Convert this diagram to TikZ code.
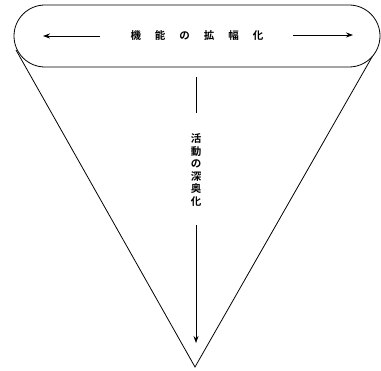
\documentclass[tikz,border=0pt]{standalone}
\usepackage{fontspec}
\newfontfamily\cjk{Noto Sans CJK JP}[BoldFont={Noto Sans CJK JP Bold}]
\usetikzlibrary{shapes.misc,arrows.meta}
\begin{document}
\begin{tikzpicture}[x=1pt,y=-1pt,
  ln/.style={line width=0.8pt,black},
  arr/.style={ln,-{Stealth[length=7pt,width=5pt]}},
  lbl/.style={font=\cjk\bfseries\fontsize{10.5}{12.6}\selectfont,inner sep=0pt}]
\useasboundingbox (0,0) rectangle (381,371);
% triangle
\coordinate (tl) at (16,50);
\coordinate (tr) at (376,50);
\coordinate (apex) at (195,367);
\draw[ln] (tl) -- (apex) -- (tr);
% band
\node[rounded rectangle,draw,ln,fill=white,minimum width=366pt,minimum height=62pt,inner sep=0pt] (band) at (197,36) {};
\node[lbl] (hl) at (197,35) {機\hspace{14pt}能\hspace{14pt}の\hspace{14pt}拡\hspace{14pt}幅\hspace{14pt}化};
\coordinate (la) at (100,36);
\coordinate (lb) at (43,36);
\coordinate (ra) at (293,35);
\coordinate (rb) at (353,35);
\draw[arr] (la) -- (lb);
\draw[arr] (ra) -- (rb);
% vertical
\node[lbl,align=center] (vl) at (196,170) {活\\動\\の\\深\\奥\\化};
\coordinate (v1) at (196,77);
\coordinate (v2) at (196,113);
\coordinate (v3) at (196,225);
\coordinate (v4) at (196,343);
\draw[ln] (v1) -- (v2);
\draw[arr] (v3) -- (v4);
\end{tikzpicture}
\end{document}
